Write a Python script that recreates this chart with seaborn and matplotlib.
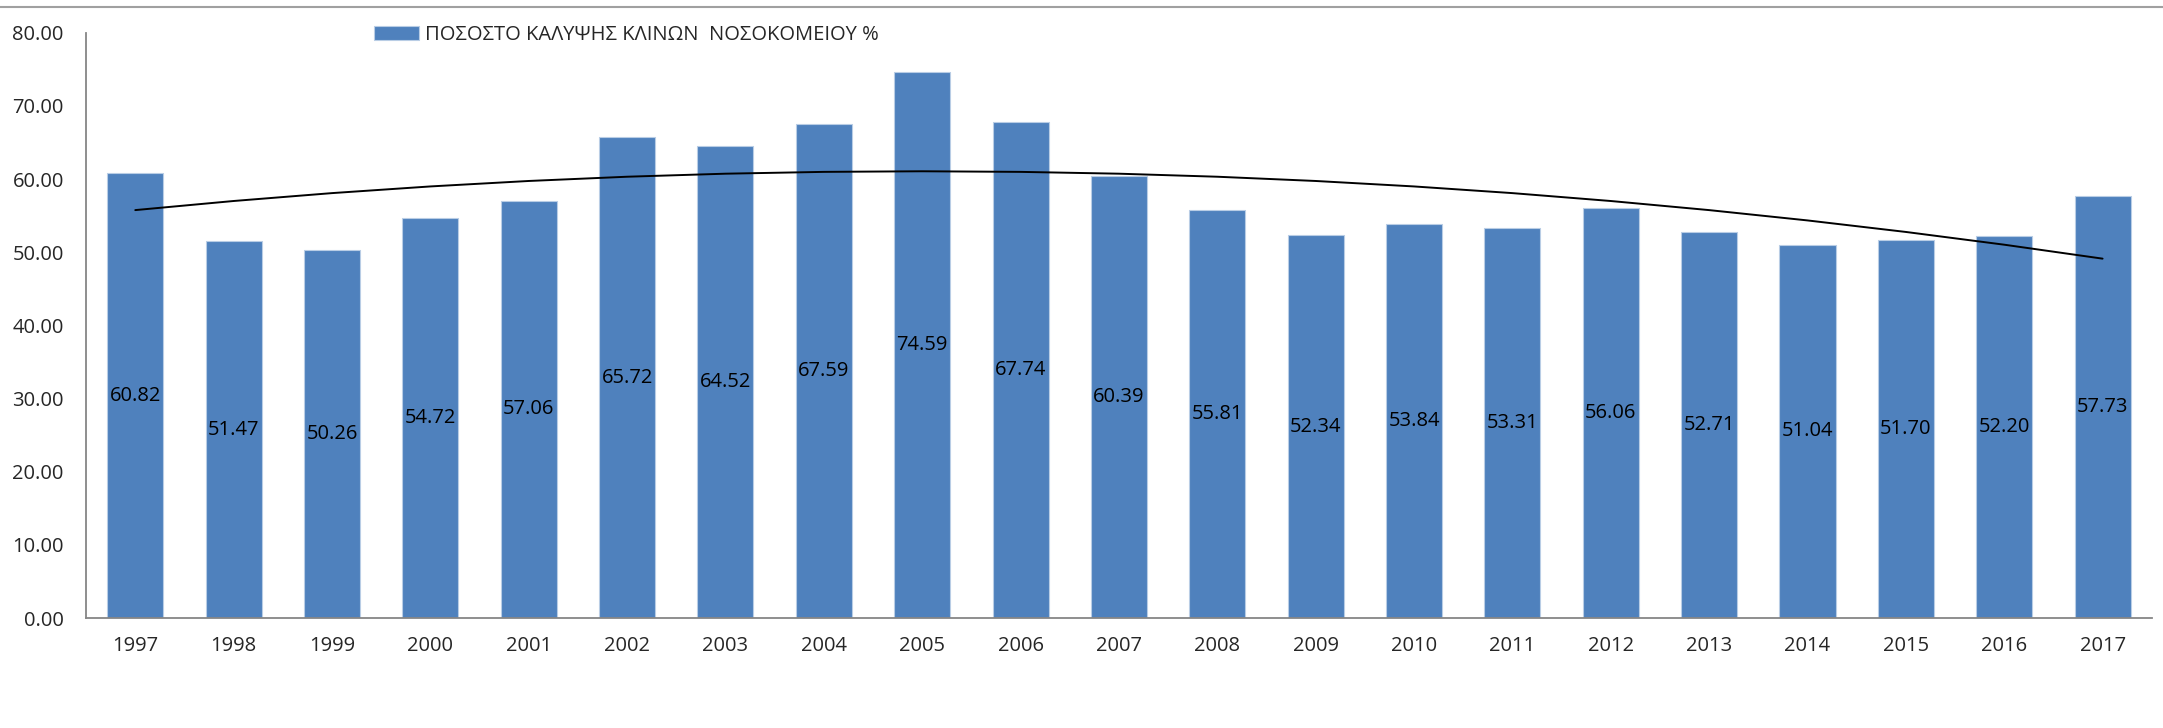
import numpy as np
import pandas as pd
import matplotlib
matplotlib.use("Agg")
import matplotlib.pyplot as plt
from matplotlib.lines import Line2D
import seaborn as sns

years = ["1997", "1998", "1999", "2000", "2001", "2002", "2003", "2004", "2005", "2006", "2007",
         "2008", "2009", "2010", "2011", "2012", "2013", "2014", "2015", "2016", "2017"]
occupancy = [60.82, 51.47, 50.26, 54.72, 57.06, 65.72, 64.52, 67.59, 74.59, 67.74, 60.39,
             55.81, 52.34, 53.84, 53.31, 56.06, 52.71, 51.04, 51.70, 52.20, 57.73]
series_name = "ΠΟΣΟΣΤΟ ΚΑΛΥΨΗΣ ΚΛΙΝΩΝ  ΝΟΣΟΚΟΜΕΙΟΥ %"
y_ticks = [0, 10, 20, 30, 40, 50, 60, 70, 80]

sns.set_style("white")
plt.rcParams["font.family"] = ["Open Sans", "DejaVu Sans"]

df = pd.DataFrame({"year": years, "value": occupancy})

fig = plt.figure(figsize=(21.63, 7.28), dpi=100)
ax = fig.add_axes([0.0398, 0.151, 0.955, 0.804])

sns.barplot(data=df, x="year", y="value", color="#4F81BD", saturation=1, width=0.57,
            edgecolor="#B9CDE5", linewidth=0.8, label=series_name, ax=ax)
ax.bar_label(ax.containers[0], labels=[f"{v:.2f}" for v in occupancy],
             label_type="center", fontsize=14.5, color="black")

# polynomial (order 2) trend line
xs = np.arange(len(years))
coef = np.polyfit(xs, occupancy, 2)
ax.plot(xs, np.polyval(coef, xs), color="black", linewidth=1.4)

ax.set_ylim(0, 80)
ax.set_xlim(-0.5, len(years) - 0.5)
ax.set_yticks(y_ticks)
ax.set_yticklabels([f"{t:.2f}" for t in y_ticks])
ax.tick_params(axis="both", labelsize=14.5, length=0)
ax.tick_params(axis="y", pad=16)
ax.tick_params(axis="x", pad=13)
ax.set_xlabel("")
ax.set_ylabel("")

for side in ["top", "right"]:
    ax.spines[side].set_visible(False)
for side in ["left", "bottom"]:
    ax.spines[side].set_color("#868686")
    ax.spines[side].set_linewidth(1.3)

ax.legend(loc="center left", bbox_to_anchor=(374 / 2163, 1 - 35 / 728),
          bbox_transform=fig.transFigure, frameon=False, fontsize=14.5,
          borderpad=0, borderaxespad=0, handlelength=2.25, handleheight=0.7,
          handletextpad=0.3)

fig.add_artist(Line2D([0, 1], [0.990, 0.990], color="#A0A0A0", linewidth=1.5,
                      transform=fig.transFigure))

fig.savefig("out.png", dpi=100)
